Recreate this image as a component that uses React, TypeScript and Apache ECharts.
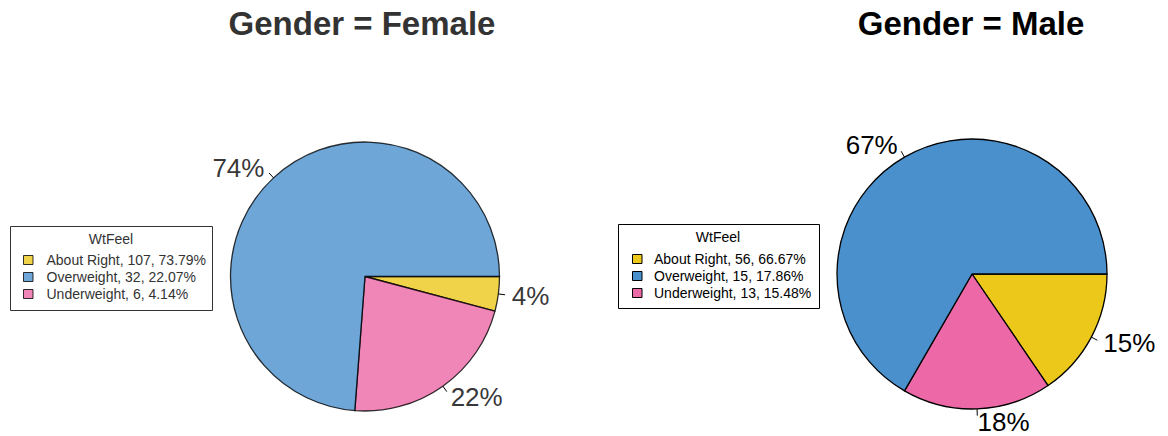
import React, { useEffect, useRef } from 'react';
import * as echarts from 'echarts';

// ---------- data ----------
const categories = ['About Right', 'Overweight', 'Underweight'];
const femaleCounts = [107, 32, 6];
const maleCounts = [56, 15, 13];
const panelTitles = ['Gender = Female', 'Gender = Male'];
const legendTitle = 'WtFeel';
// colours as shown in the legend (About Right, Overweight, Underweight)
const legendColors = ['#ecc81a', '#4a90cd', '#ec68a6'];
// colours of the slices, drawn smallest first from 3 o'clock, clockwise
const sliceColors = ['#ecc81a', '#ec68a6', '#4a90cd'];

const FONT = '"Liberation Sans", Arial, Helvetica, sans-serif';

type Panel = {
  counts: number[];
  title: string;
  center: [number, number];
  radius: number;
  opacity: number;
  titleX: number;
  titleY: number;
  legend: { x: number; y: number; w: number; h: number; titleX: number; titleY: number; sqX: number; textX: number; rowY: number };
};

const panels: Panel[] = [
  {
    counts: femaleCounts,
    title: panelTitles[0],
    center: [365, 276.5],
    radius: 134.5,
    opacity: 0.8,
    titleX: 362,
    titleY: 23,
    legend: { x: 10.5, y: 226.5, w: 202, h: 84, titleX: 111, titleY: 238.5, sqX: 23, textX: 46.5, rowY: 260 },
  },
  {
    counts: maleCounts,
    title: panelTitles[1],
    center: [972, 274],
    radius: 135,
    opacity: 1,
    titleX: 971,
    titleY: 23,
    legend: { x: 618.5, y: 224.5, w: 201, h: 84, titleX: 718, titleY: 237, sqX: 632, textX: 654, rowY: 259 },
  },
];

function buildOption() {
  const series: any[] = [];
  const graphic: any[] = [];

  panels.forEach((p) => {
    const total = p.counts.reduce((a, b) => a + b, 0);
    const sorted = [...p.counts].map((v, i) => ({ v, i })).sort((a, b) => a.v - b.v);
    const textColor = p.opacity < 1 ? '#333333' : '#000000';

    series.push({
      type: 'pie',
      center: p.center,
      radius: p.radius,
      startAngle: 0,
      clockwise: true,
      avoidLabelOverlap: false,
      silent: true,
      emphasis: { disabled: true },
      itemStyle: { borderColor: '#000', borderWidth: 1.3, opacity: p.opacity },
      label: {
        show: true,
        position: 'outside',
        alignTo: 'none',
        distanceToLabelLine: 0,
        fontSize: 26,
        lineHeight: 20,
        fontFamily: FONT,
        color: '#000',
        formatter: (params: any) => Math.round((params.value / total) * 100) + '%',
      },
      labelLine: {
        show: true,
        length: p.radius * 0.1,
        length2: 0,
        smooth: false,
        lineStyle: { color: '#000', width: 1, type: [p.radius * 0.05, 1000] },
      },
      data: sorted.map((s, k) => ({
        value: s.v,
        name: categories[s.i],
        itemStyle: { color: sliceColors[k] },
      })),
    });

    // panel title
    graphic.push({
      type: 'text',
      x: p.titleX,
      y: p.titleY,
      silent: true,
      style: {
        text: p.title,
        font: `bold 33px ${FONT}`,
        fill: textColor,
        textAlign: 'center',
        textVerticalAlign: 'middle',
      },
    });

    // legend box
    const L = p.legend;
    const children: any[] = [
      {
        type: 'rect',
        shape: { x: L.x, y: L.y, width: L.w, height: L.h },
        style: { fill: '#fff', stroke: textColor, lineWidth: 1 },
      },
      {
        type: 'text',
        x: L.titleX,
        y: L.titleY,
        style: {
          text: legendTitle,
          font: `14px ${FONT}`,
          fill: textColor,
          textAlign: 'center',
          textVerticalAlign: 'middle',
        },
      },
    ];
    categories.forEach((c, i) => {
      const y = L.rowY + i * 17;
      const pct = ((p.counts[i] / total) * 100).toFixed(2);
      children.push({
        type: 'rect',
        shape: { x: L.sqX + 0.5, y: y - 4.5, width: 9.5, height: 9 },
        style: { fill: legendColors[i], stroke: '#000', lineWidth: 1, opacity: p.opacity },
      });
      children.push({
        type: 'text',
        x: L.textX,
        y,
        style: {
          text: `${c}, ${p.counts[i]}, ${pct}%`,
          font: `14px ${FONT}`,
          fill: textColor,
          textAlign: 'left',
          textVerticalAlign: 'middle',
        },
      });
    });
    graphic.push({ type: 'group', silent: true, children });
  });

  return {
    animation: false,
    backgroundColor: '#ffffff',
    series,
    graphic,
  };
}

export default function App() {
  const ref = useRef<HTMLDivElement>(null);
  useEffect(() => {
    if (!ref.current) return;
    const chart = echarts.init(ref.current, undefined, { renderer: 'svg' });
    chart.setOption(buildOption() as any);
    return () => chart.dispose();
  }, []);
  return (
    <div
      ref={ref}
      style={{ position: 'absolute', left: 0, top: 0, width: 1168, height: 436, background: '#fff' }}
    />
  );
}
